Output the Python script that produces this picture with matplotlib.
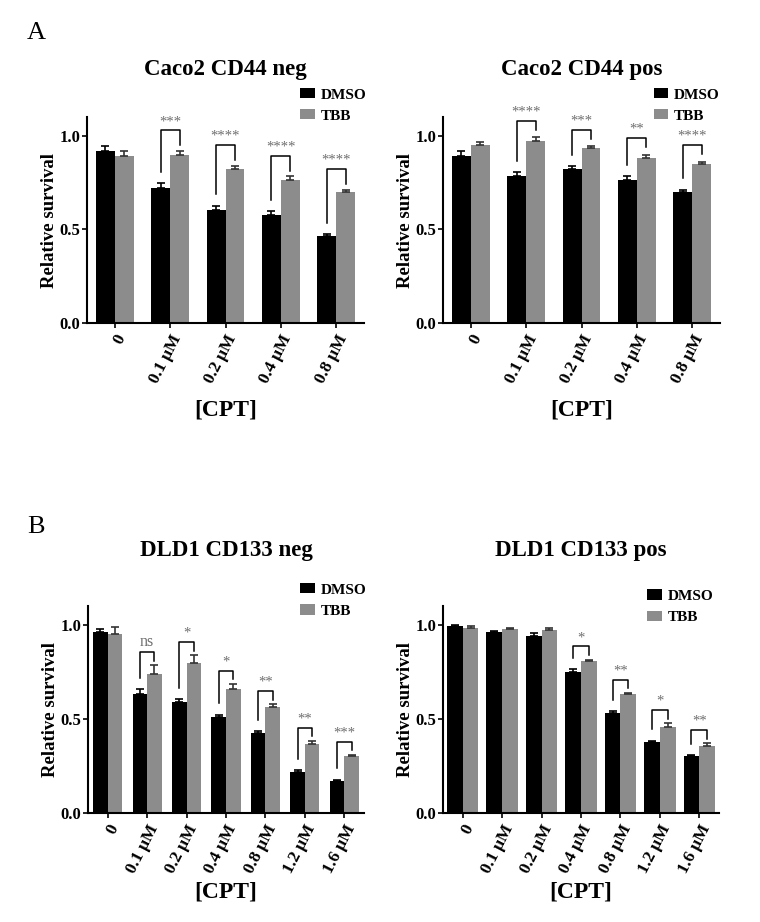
import numpy as np
import matplotlib
matplotlib.use("Agg")
import matplotlib.pyplot as plt

plt.rcParams['font.family'] = ['Liberation Serif', 'DejaVu Serif']
plt.rcParams['font.weight'] = 'bold'

# ---- data ----
doses_a = ['0', '0.1 μM', '0.2 μM', '0.4 μM', '0.8 μM']
doses_b = ['0', '0.1 μM', '0.2 μM', '0.4 μM', '0.8 μM', '1.2 μM', '1.6 μM']

caco_neg_dmso = [0.917, 0.720, 0.605, 0.579, 0.465]
caco_neg_dmso_err = [0.028, 0.027, 0.022, 0.017, 0.009]
caco_neg_tbb = [0.892, 0.897, 0.823, 0.766, 0.697]
caco_neg_tbb_err = [0.025, 0.021, 0.016, 0.018, 0.015]
caco_neg_sig = ['', '***', '****', '****', '****']

caco_pos_dmso = [0.892, 0.784, 0.823, 0.766, 0.697]
caco_pos_dmso_err = [0.025, 0.021, 0.016, 0.020, 0.015]
caco_pos_tbb = [0.950, 0.972, 0.933, 0.883, 0.850]
caco_pos_tbb_err = [0.018, 0.019, 0.010, 0.016, 0.010]
caco_pos_sig = ['', '****', '***', '**', '****']

dld_neg_dmso = [0.961, 0.635, 0.591, 0.511, 0.423, 0.217, 0.171]
dld_neg_dmso_err = [0.018, 0.023, 0.014, 0.011, 0.013, 0.009, 0.007]
dld_neg_tbb = [0.952, 0.741, 0.799, 0.658, 0.561, 0.365, 0.303]
dld_neg_tbb_err = [0.034, 0.044, 0.039, 0.028, 0.017, 0.019, 0.006]
dld_neg_sig = ['', 'ns', '*', '*', '**', '**', '***']

dld_pos_dmso = [0.993, 0.963, 0.942, 0.750, 0.529, 0.376, 0.305]
dld_pos_dmso_err = [0.007, 0.002, 0.017, 0.014, 0.011, 0.008, 0.002]
dld_pos_tbb = [0.982, 0.977, 0.970, 0.808, 0.631, 0.459, 0.358]
dld_pos_tbb_err = [0.011, 0.004, 0.012, 0.007, 0.007, 0.017, 0.012]
dld_pos_sig = ['', '', '', '*', '**', '*', '**']

GREY = '#8c8c8c'
W, H = 760, 922


def px_axes(x0, y_top, w, h):
    return [x0 / W, 1 - (y_top + h) / H, w / W, h / H]


def panel(ax, title, labels, dmso, dmso_err, tbb, tbb_err, sig,
          bw, top_pad, leg, leg_anchor, xlab_pad, title_pad):
    n = len(labels)
    x = np.arange(n)
    ax.bar(x - bw / 2, dmso, bw, color='black', label='DMSO',
           yerr=[np.zeros(n), dmso_err], capsize=3,
           error_kw=dict(ecolor='black', elinewidth=1.2, capthick=1.2))
    ax.bar(x + bw / 2, tbb, bw, color=GREY, label='TBB',
           yerr=[np.zeros(n), tbb_err], capsize=3,
           error_kw=dict(ecolor='#333333', elinewidth=1.2, capthick=1.2))

    d_top = np.array(dmso) + np.array(dmso_err)
    t_top = np.array(tbb) + np.array(tbb_err)
    for i, s in enumerate(sig):
        if not s:
            continue
        xl, xr = x[i] - bw / 2, x[i] + bw / 2
        top = t_top[i] + top_pad
        ax.plot([xl, xl, xr, xr], [d_top[i] + 0.06, top, top, top - leg],
                color='black', lw=1.1, clip_on=False)
        ax.text((xl + xr) / 2, top + 0.012, s, ha='center', va='bottom',
                fontsize=10.5 if s != 'ns' else 11.5, color='#6e6e6e',
                fontweight='normal')

    ax.set_xlim(-0.5, n - 0.5)
    ax.set_ylim(0, 1.1)
    ax.set_yticks([0, 0.5, 1.0])
    ax.set_yticklabels(['0.0', '0.5', '1.0'], fontsize=12, fontweight='bold')
    ax.set_xticks(x)
    ax.set_xticklabels(labels, rotation=63, ha='right', va='top',
                       rotation_mode='anchor', fontsize=12.5,
                       fontweight='bold')
    ax.tick_params(axis='both', direction='out', length=3.5, width=1.2)
    ax.tick_params(axis='y', pad=1.5)
    ax.tick_params(axis='x', pad=3)
    for side in ['top', 'right']:
        ax.spines[side].set_visible(False)
    for side in ['left', 'bottom']:
        ax.spines[side].set_linewidth(1.5)
    ax.set_ylabel('Relative survival', fontsize=13.5, fontweight='bold',
                  labelpad=1)
    ax.set_xlabel('[CPT]', fontsize=17, fontweight='bold', labelpad=xlab_pad)
    ax.set_title(title, fontsize=16.5, fontweight='bold', pad=title_pad)
    ax.legend(loc='upper right', bbox_to_anchor=leg_anchor, frameon=False,
              handlelength=0.95, handleheight=0.65, handletextpad=0.4,
              labelspacing=0.5, borderpad=0, borderaxespad=0,
              prop=dict(size=11, weight='bold'))


fig = plt.figure(figsize=(7.6, 9.22), dpi=100)

ax1 = fig.add_axes(px_axes(87, 117, 277, 206))
ax2 = fig.add_axes(px_axes(443, 117, 277, 206))
ax3 = fig.add_axes(px_axes(88, 606, 276, 207))
ax4 = fig.add_axes(px_axes(443, 606, 276, 207))

panel(ax1, 'Caco2 CD44 neg', doses_a, caco_neg_dmso, caco_neg_dmso_err,
      caco_neg_tbb, caco_neg_tbb_err, caco_neg_sig,
      0.34, 0.11, 0.08, (1.01, 1.14), 10, 30)
panel(ax2, 'Caco2 CD44 pos', doses_a, caco_pos_dmso, caco_pos_dmso_err,
      caco_pos_tbb, caco_pos_tbb_err, caco_pos_sig,
      0.34, 0.09, 0.05, (1.0, 1.14), 10, 30)
panel(ax3, 'DLD1 CD133 neg', doses_b, dld_neg_dmso, dld_neg_dmso_err,
      dld_neg_tbb, dld_neg_tbb_err, dld_neg_sig,
      0.37, 0.07, 0.045, (1.01, 1.11), 4, 36)
panel(ax4, 'DLD1 CD133 pos', doses_b, dld_pos_dmso, dld_pos_dmso_err,
      dld_pos_tbb, dld_pos_tbb_err, dld_pos_sig,
      0.4, 0.07, 0.045, (0.98, 1.08), 4, 36)

fig.text(27 / W, 1 - 33 / H, 'A', fontsize=19, fontweight='normal',
         ha='left', va='center')
fig.text(27 / W, 1 - 527 / H, 'B', fontsize=19, fontweight='normal',
         ha='left', va='center')

fig.savefig('out.png', dpi=100)
